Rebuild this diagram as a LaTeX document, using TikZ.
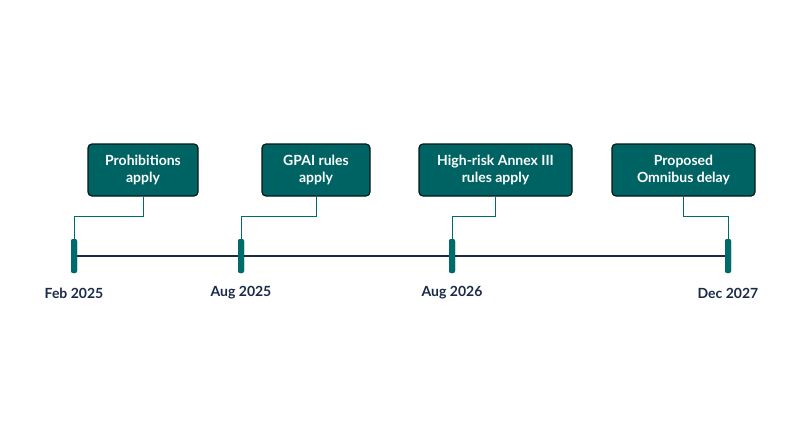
\documentclass[tikz,border=0pt]{standalone}
\usepackage{fontspec}
\setmainfont{Lato}
\begin{document}
\begin{tikzpicture}[x=1pt,y=-1pt,
  box/.style={draw=black!80!teal,line width=1.2pt,fill=teal!70!cyan!60!black,rounded corners=4pt,text=white,align=center,font=\fontsize{14}{17}\selectfont\bfseries,inner sep=0pt,minimum height=52pt},
  tick/.style={fill=teal!80!cyan!70!black,rounded corners=2pt,minimum width=6pt,minimum height=34pt,inner sep=0pt},
  lbl/.style={text=navy,font=\fontsize{14}{17}\selectfont\bfseries},
  con/.style={draw=teal!80!cyan!70!black,line width=0.8pt}]
\definecolor{navy}{HTML}{1B2A4A}
\useasboundingbox[fill=white] (0,0) rectangle (800,447);
\node[tick] (t1) at (74,256) {};
\node[tick] (t2) at (241,256) {};
\node[tick] (t3) at (452,256) {};
\node[tick] (t4) at (728,256) {};
\draw[navy,line width=2.2pt] (t1.center) -- (t4.center);
\foreach \t in {t1,t2,t3,t4}{\node[tick] at (\t) {};}
\node[lbl] (l1) at (74,293) {Feb 2025};
\node[lbl] (l2) at (241,293) {Aug 2025};
\node[lbl] (l3) at (452,293) {Aug 2026};
\node[lbl] (l4) at (728,293) {Dec 2027};
\node[box,minimum width=110pt] (b1) at (143,170) {Prohibitions\\apply};
\node[box,minimum width=108pt] (b2) at (316,170) {GPAI rules\\apply};
\node[box,minimum width=153pt] (b3) at (495.5,170) {High-risk Annex III\\rules apply};
\node[box,minimum width=143pt] (b4) at (683.5,170) {Proposed\\Omnibus delay};
\draw[con] (b1.south) -- ++(0,20) -| (t1.north);
\draw[con] (b2.south) -- ++(0,20) -| (t2.north);
\draw[con] (b3.south) -- ++(0,20) -| (t3.north);
\draw[con] (b4.south) -- ++(0,20) -| (t4.north);
\end{tikzpicture}
\end{document}
